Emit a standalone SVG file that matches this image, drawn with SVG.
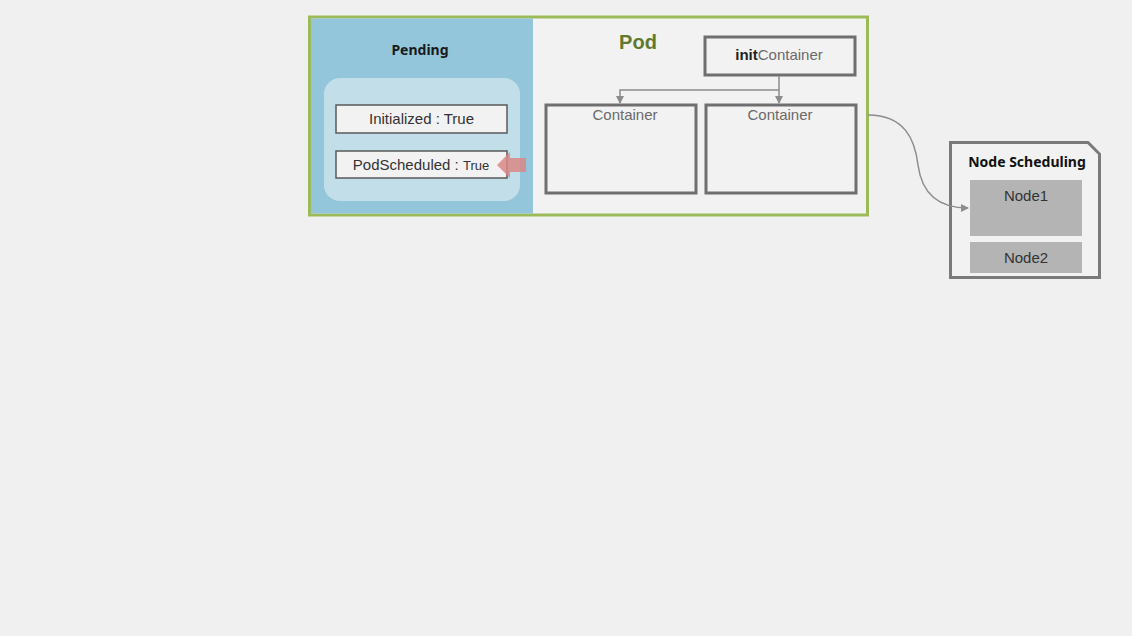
<svg xmlns="http://www.w3.org/2000/svg" width="1132" height="636" viewBox="0 0 1132 636" font-family="'Liberation Sans', Arial, sans-serif">
<style>
.cond{fill:#f2f2f2;stroke:#5a5a5a;stroke-width:1.5;}
.cont{fill:#f2f2f2;stroke:#6f6f6f;stroke-width:3;}
.ctext{font-size:15px;fill:#6a6a6a;text-anchor:middle;}
.conn{fill:none;stroke:#8c8c8c;stroke-width:1.5;}
.node{fill:#b4b4b4;}
</style>
<defs>
<marker id="ah" markerWidth="8" markerHeight="8" refX="7" refY="4" orient="auto" markerUnits="userSpaceOnUse">
<path d="M0,0 L8,4 L0,8 Z" fill="#8c8c8c"/>
</marker>
</defs>
<rect width="1132" height="636" fill="#f0f0f0"/>
<g id="pod">
<rect x="309.5" y="17" width="558" height="198" fill="#f2f2f2" stroke="#9bbb59" stroke-width="3"/>
<text x="638" y="49" font-size="20" font-weight="bold" fill="#5f7a2e" text-anchor="middle">Pod</text>
</g>
<g id="pending">
<rect x="311" y="18.5" width="222" height="195" fill="#93c6da"/>
<text x="420" y="55" font-size="14" font-weight="bold" fill="#1a1a1a" text-anchor="middle" font-family="'Noto Sans', sans-serif">Pending</text>
<rect x="324" y="78" width="196" height="123" rx="16" fill="#c2dfe9"/>
</g>
<g id="initialized">
<rect class="cond" x="336" y="105" width="171" height="28"/>
<text x="421.5" y="124" font-size="15" fill="#333" text-anchor="middle">Initialized : True</text>
</g>
<g id="podscheduled">
<rect class="cond" x="336" y="151" width="171" height="27"/>
<text x="421" y="170" font-size="15" fill="#333" text-anchor="middle">PodScheduled : <tspan font-size="13">True</tspan></text>
<path d="M497,165 L510,152 L510,158 L526,158 L526,172 L510,172 L510,178 Z" fill="#d98885" opacity="0.85"/>
</g>
<g id="initContainer">
<rect class="cont" x="705" y="37" width="150" height="38"/>
<text x="779" y="60" font-size="15" fill="#6a6a6a" text-anchor="middle"><tspan font-weight="bold" fill="#222">init</tspan>Container</text>
</g>
<g id="container1">
<rect class="cont" x="546" y="105" width="150" height="88"/>
<text class="ctext" x="625" y="120">Container</text>
</g>
<g id="container2">
<rect class="cont" x="706" y="105" width="150" height="88"/>
<text class="ctext" x="780" y="120">Container</text>
</g>
<g id="nodeScheduling">
<path d="M950.5,142.5 L1088,142.5 L1099.5,154 L1099.5,277.5 L950.5,277.5 Z" fill="#f2f2f2" stroke="#7a7a7a" stroke-width="3"/>
<text x="1027" y="167" font-size="14" font-weight="bold" fill="#111" text-anchor="middle" font-family="'Noto Sans', sans-serif">Node Scheduling</text>
</g>
<g id="node1">
<rect class="node" x="970" y="180" width="112" height="56"/>
<text x="1026" y="201" font-size="15" fill="#333" text-anchor="middle">Node1</text>
</g>
<g id="node2">
<rect class="node" x="970" y="242" width="112" height="31"/>
<text x="1026" y="263" font-size="15" fill="#333" text-anchor="middle">Node2</text>
</g>
<g id="connectors">
<path class="conn" d="M779,76 L779,103" marker-end="url(#ah)"/>
<path class="conn" d="M779,90 L620,90 L620,103" marker-end="url(#ah)"/>
<path class="conn" d="M868,115 C905,115 915,140 918,165 C922,195 940,208 968,208" marker-end="url(#ah)"/>
</g>
</svg>
